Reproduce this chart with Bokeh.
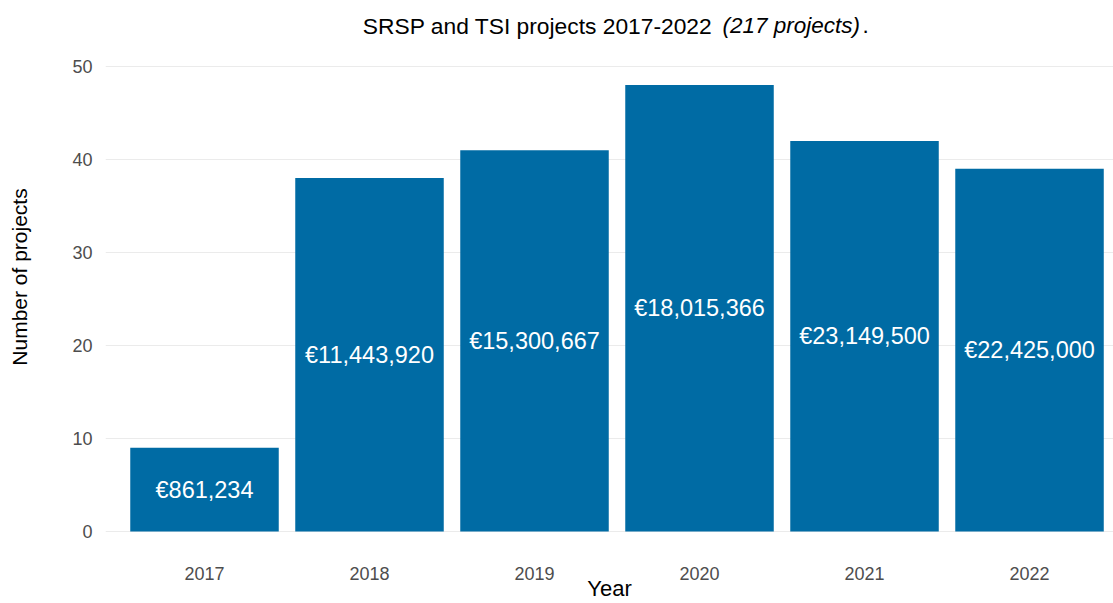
from bokeh.plotting import figure
from bokeh.models import Range1d, FixedTicker, ColumnDataSource
from bokeh.core.properties import value
from bokeh.embed import file_html
from bokeh.resources import INLINE

years = [2017, 2018, 2019, 2020, 2021, 2022]
projects = [9, 38, 41, 48, 42, 39]
funding_labels = ["€861,234", "€11,443,920", "€15,300,667", "€18,015,366", "€23,149,500", "€22,425,000"]
title_main = "SRSP and TSI projects 2017-2022"
title_italic = "(217 projects)"
y_ticks = [0, 10, 20, 30, 40, 50]

FONT = "Liberation Sans"
BAR = "#006BA4"

src = ColumnDataSource(dict(
    x=years, top=projects, mid=[v / 2 for v in projects], lab=funding_labels,
))

p = figure(width=1113, height=603, output_backend="svg", toolbar_location=None,
           x_range=Range1d(2016.4, 2022.509), y_range=Range1d(-2.37, 57.1),
           min_border_left=105, min_border_right=0, min_border_top=0, min_border_bottom=50)
p.outline_line_color = None
p.background_fill_color = "white"
p.border_fill_color = "white"

p.vbar(x="x", top="top", bottom=0, width=0.9, source=src, fill_color=BAR, line_color=None)
p.text(x="x", y="mid", text="lab", source=src, text_align="center", text_baseline="middle",
       text_color="white", text_font=value(FONT), text_font_size="23.5px")

p.xgrid.grid_line_color = None
p.ygrid.grid_line_color = "#EBEBEB"
p.ygrid.grid_line_width = 1.2
p.ygrid.ticker = FixedTicker(ticks=y_ticks)

for ax in (p.xaxis, p.yaxis):
    ax.axis_line_color = None
    ax.major_tick_line_color = None
    ax.minor_tick_line_color = None
    ax.major_label_text_font = FONT
    ax.major_label_text_font_size = "18px"
    ax.major_label_text_color = "#4D4D4D"
    ax.axis_label_text_font = FONT
    ax.axis_label_text_font_style = "normal"
    ax.axis_label_text_color = "black"

p.xaxis.ticker = FixedTicker(ticks=years)
p.xaxis.major_label_standoff = 7
p.xaxis.axis_label = "Year"
p.xaxis.axis_label_text_font_size = "22px"
p.xaxis.axis_label_standoff = -7
p.yaxis.ticker = FixedTicker(ticks=y_ticks)
p.yaxis.major_label_standoff = 7
p.yaxis.axis_label = "Number of projects"
p.yaxis.axis_label_text_font_size = "21px"
p.yaxis.axis_label_standoff = 38

# Title pieces (drawn inside the frame area above the bars)
ty = 54.41
p.text(x=[2020.079], y=[ty], text=[title_main], text_align="right", text_baseline="alphabetic",
       text_font=value(FONT), text_font_size="22.8px", text_color="black")
p.text(x=[2020.139], y=[ty], text=[title_italic], text_align="left", text_baseline="alphabetic",
       text_font=value(FONT), text_font_size="22.5px", text_font_style="italic", text_color="black")
p.text(x=[2020.988], y=[ty], text=["."], text_align="left", text_baseline="alphabetic",
       text_font=value(FONT), text_font_size="22.5px", text_color="black")

open("out.html", "w").write(file_html(p, INLINE))
